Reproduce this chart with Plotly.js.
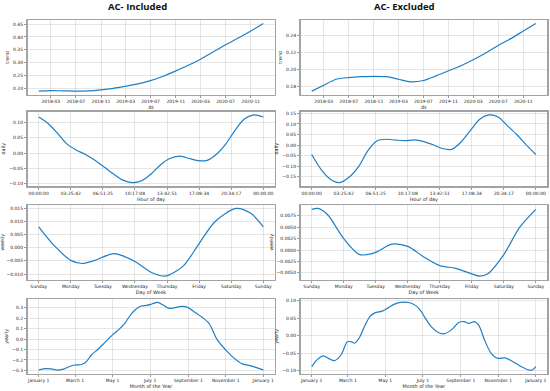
<!DOCTYPE html>
<html><head><meta charset="utf-8">
<script src="https://cdn.plot.ly/plotly-3.0.1.min.js"></script>
<style>html,body{margin:0;padding:0;background:#fff}#chart{width:550px;height:391px}</style>
</head><body><div id="chart"></div>
<script>
// ---------------- DATA ----------------
const panelTitles = ['AC- Included', 'AC- Excluded'];

const trendDates = ['2018-01-01','2018-03-01','2018-05-01','2018-07-01','2018-09-01','2018-11-01','2019-01-01','2019-03-01','2019-05-01','2019-07-01','2019-09-01','2019-11-01','2020-01-01','2020-03-01','2020-05-01','2020-07-01','2020-09-01','2020-11-01','2021-01-01'];
const trendIncluded = [0.188,0.190,0.189,0.188,0.189,0.193,0.199,0.207,0.216,0.229,0.246,0.267,0.289,0.313,0.341,0.369,0.396,0.423,0.453];
const trendExcluded = [0.174,0.181,0.188,0.190,0.191,0.1915,0.191,0.188,0.185,0.1865,0.192,0.198,0.204,0.211,0.219,0.228,0.236,0.245,0.254];
const trendTicks = ['2018-03-01','2018-07-01','2018-11-01','2019-03-01','2019-07-01','2019-11-01','2020-03-01','2020-07-01','2020-11-01'];

const dailyHours = [0,1,2,3,4,5,6,7,8,9,10,11,12,13,14,15,16,17,18,19,20,21,22,23,24];
const dailyIncluded = [0.118,0.097,0.065,0.030,0.010,-0.005,-0.024,-0.046,-0.069,-0.089,-0.097,-0.091,-0.069,-0.039,-0.018,-0.010,-0.017,-0.025,-0.024,-0.004,0.030,0.075,0.112,0.125,0.118];
const dailyExcluded = [-0.044,-0.114,-0.161,-0.177,-0.152,-0.103,-0.027,0.021,0.028,0.024,0.021,0.025,0.017,0.002,-0.016,-0.020,0.015,0.070,0.122,0.143,0.132,0.090,0.048,0.000,-0.044];
const dailyTickLabels = ['00:00:00','03:25:42','06:51:25','10:17:08','13:42:51','17:08:34','20:34:17','00:00:00'];

const weeklyDaysIncluded = [0,0.5,1,1.35,1.75,2.35,3,3.5,3.95,4.5,5,5.5,6.15,6.6,7];
const weeklyIncluded = [0.0080,0.0006,-0.0048,-0.0060,-0.0048,-0.0022,-0.0052,-0.0093,-0.0108,-0.0070,0.0016,0.0100,0.0150,0.0132,0.0080];
const weeklyDaysExcluded = [0,0.2,0.5,1,1.5,2,2.5,3,3.5,4,4.5,5,5.25,5.5,6,6.5,7];
const weeklyExcluded = [0.0089,0.0091,0.0077,0.0025,-0.0010,-0.0005,0.0013,0.0008,-0.0015,-0.0034,-0.0040,-0.0052,-0.0057,-0.0052,-0.0010,0.0050,0.0089];
const weeklyTickLabels = ['Sunday','Monday','Tuesday','Wednesday','Thursday','Friday','Saturday','Sunday'];

const yearlyDaysIncluded = [0,10,20,30,40,50,59,68,76,86,96,108,120,130,140,148,156,166,176,184,193,203,212,222,232,243,255,265,277,290,305,318,330,345,355,365];
const yearlyIncluded = [-0.295,-0.283,-0.285,-0.297,-0.288,-0.262,-0.248,-0.246,-0.225,-0.150,-0.100,-0.030,0.040,0.090,0.150,0.220,0.275,0.315,0.322,0.335,0.350,0.322,0.293,0.300,0.312,0.300,0.250,0.210,0.148,-0.005,-0.110,-0.185,-0.235,-0.256,-0.275,-0.295];
const yearlyDaysExcluded = [0,9,19,28,37,48,58,65,70,78,86,95,103,115,125,135,145,160,170,178,185,195,207,215,228,240,248,256,265,272,282,292,302,315,325,340,354,360,365];
const yearlyExcluded = [-0.089,-0.069,-0.058,-0.066,-0.072,-0.055,-0.018,-0.018,-0.022,-0.005,0.026,0.055,0.065,0.070,0.080,0.090,0.095,0.094,0.085,0.070,0.050,0.025,0.008,0.005,0.017,0.038,0.040,0.035,0.040,0.030,-0.015,-0.050,-0.065,-0.064,-0.072,-0.088,-0.099,-0.098,-0.089];
const yearlyTickDays = [0,59,120,181,243,304,365];
const yearlyTickLabels = ['January 1','March 1','May 1','July 1','September 1','November 1','January 1'];

const rowYTitles = ['trend','daily','weekly','yearly'];
const rowXTitles = ['ds','Hour of day','Day of Week','Month of the Year'];

// ---------------- LAYOUT ----------------
const W = 550, H = 391;
const colPx = [[27.5, 274.5], [300.5, 547]];
const rowPx = [[20, 94.5], [111.5, 186], [205, 279.5], [299, 373.5]];
const lineColor = '#1f7fc4';
const fontFam = 'DejaVu Sans, sans-serif';

function pad(arr) {
  const mn = Math.min(...arr), mx = Math.max(...arr), s = mx - mn;
  return [mn - 0.05 * s, mx + 0.05 * s];
}
function fmtDate(ms) { return new Date(ms).toISOString().slice(0, 19).replace('T', ' '); }
function padDates(arr) {
  const ms = arr.map(d => Date.parse(d + 'T00:00:00Z'));
  const r = pad(ms);
  return [fmtDate(r[0]), fmtDate(r[1])];
}

const dailyTickVals = dailyTickLabels.map((_, i) => i * 24 / 7);
const weeklyTickVals = weeklyTickLabels.map((_, i) => i);

const panels = [
  // row 0: trend
  [{x: trendDates, y: trendIncluded, yt: [0.20,0.25,0.30,0.35,0.40,0.45], fmt: '.2f'},
   {x: trendDates, y: trendExcluded, yt: [0.18,0.20,0.22,0.24], fmt: '.2f'}],
  [{x: dailyHours, y: dailyIncluded, yt: [-0.10,-0.05,0,0.05,0.10], fmt: '.2f'},
   {x: dailyHours, y: dailyExcluded, yt: [-0.15,-0.10,-0.05,0,0.05,0.10,0.15], fmt: '.2f'}],
  [{x: weeklyDaysIncluded, y: weeklyIncluded, yt: [-0.010,-0.005,0,0.005,0.010,0.015], fmt: '.3f'},
   {x: weeklyDaysExcluded, y: weeklyExcluded, yt: [-0.0050,-0.0025,0,0.0025,0.0050,0.0075], fmt: '.4f'}],
  [{x: yearlyDaysIncluded, y: yearlyIncluded, yt: [-0.3,-0.2,-0.1,0,0.1,0.2,0.3], fmt: '.1f'},
   {x: yearlyDaysExcluded, y: yearlyExcluded, yt: [-0.10,-0.05,0,0.05,0.10], fmt: '.2f'}]
];

const axBase = {
  showline: true, mirror: true, linecolor: '#a3a3a3', linewidth: 1.5,
  showgrid: true, gridcolor: 'rgba(128,128,128,0.2)', gridwidth: 1,
  zeroline: false, ticks: 'outside', ticklen: 2, tickwidth: 0.6, tickcolor: '#555',
  tickfont: {family: fontFam, size: 4.5, color: '#222'}
};

const traces = [];
const layout = {
  width: W, height: H, margin: {l: 0, r: 0, t: 0, b: 0},
  paper_bgcolor: '#fff', plot_bgcolor: '#fff', showlegend: false,
  annotations: []
};

for (let r = 0; r < 4; r++) {
  for (let c = 0; c < 2; c++) {
    const n = r * 2 + c + 1;
    const p = panels[r][c];
    const xa = 'xaxis' + (n === 1 ? '' : n), ya = 'yaxis' + (n === 1 ? '' : n);
    traces.push({
      x: p.x, y: p.y, type: 'scatter', mode: 'lines',
      xaxis: 'x' + (n === 1 ? '' : n), yaxis: 'y' + (n === 1 ? '' : n),
      line: {color: lineColor, width: 1.2, shape: 'spline', smoothing: 0.8},
      hoverinfo: 'skip'
    });
    const xAxis = Object.assign({}, axBase, {
      domain: [colPx[c][0] / W, colPx[c][1] / W],
      anchor: 'y' + (n === 1 ? '' : n),
      title: {text: rowXTitles[r], font: {family: fontFam, size: 4.8, color: '#222'}, standoff: 2}
    });
    if (r === 0) {
      Object.assign(xAxis, {type: 'date', range: padDates(p.x), tickvals: trendTicks, tickformat: '%Y-%m'});
    } else if (r === 1) {
      Object.assign(xAxis, {range: pad(p.x), tickvals: dailyTickVals, ticktext: dailyTickLabels});
    } else if (r === 2) {
      Object.assign(xAxis, {range: pad(p.x), tickvals: weeklyTickVals, ticktext: weeklyTickLabels});
    } else {
      Object.assign(xAxis, {range: pad(p.x), tickvals: yearlyTickDays, ticktext: yearlyTickLabels});
    }
    const yAxis = Object.assign({}, axBase, {
      domain: [1 - rowPx[r][1] / H, 1 - rowPx[r][0] / H],
      anchor: 'x' + (n === 1 ? '' : n),
      range: pad(p.y), tickvals: p.yt, tickformat: p.fmt,
      title: {text: rowYTitles[r], font: {family: fontFam, size: 4.8, color: '#222'}, standoff: 3}
    });
    layout[xa] = xAxis;
    layout[ya] = yAxis;
  }
}

const titleCenters = [137, 404];
panelTitles.forEach((t, i) => {
  layout.annotations.push({
    text: '<b>' + t + '</b>', xref: 'paper', yref: 'paper',
    x: titleCenters[i] / W, y: 1 - 6 / H, xanchor: 'center', yanchor: 'middle',
    showarrow: false, font: {family: 'Open Sans, sans-serif', size: 9.5, color: '#111'}
  });
});

Plotly.newPlot('chart', traces, layout, {staticPlot: true, displayModeBar: false});
</script>
</body></html>
